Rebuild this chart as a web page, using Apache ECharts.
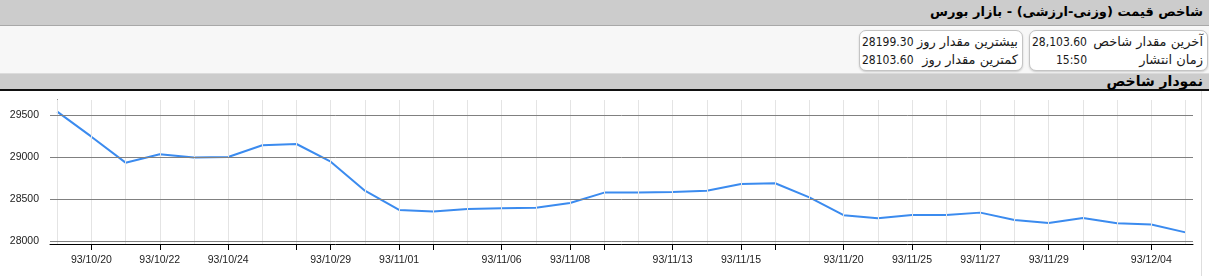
<!DOCTYPE html>
<html>
<head>
<meta charset="utf-8">
<script src="https://cdn.jsdelivr.net/npm/echarts@6/dist/echarts.min.js"></script>
<style>
  html, body { margin: 0; padding: 0; width: 1209px; height: 276px; overflow: hidden; background: #ffffff; font-family: "DejaVu Sans", sans-serif; }
  .bar1 { position: absolute; left: 0; top: 0; width: 1209px; height: 25px; background: #cccccc; border-bottom: 1px solid #a8a8a8; }
  .info { position: absolute; left: 0; top: 26px; width: 1209px; height: 47px; background: #f7f7f7; border-bottom: 1px solid #dcdcdc; }
  .bar2 { position: absolute; left: 0; top: 74px; width: 1209px; height: 15px; background: #cccccc; border-bottom: 2px solid #111111; }
  .title { position: absolute; right: 6px; font-weight: bold; color: #000; white-space: nowrap; direction: rtl; }
  .box { position: absolute; top: 30px; height: 39px; background: #ffffff; border: 1px solid #c4c4c4; border-radius: 7px; box-shadow: 0 1px 2px rgba(0,0,0,0.18); }
  .t { position: absolute; font-size: 13px; color: #1a1a1a; white-space: nowrap; }
  .n { position: absolute; font-size: 12px; color: #1a1a1a; white-space: nowrap; font-family: "DejaVu Sans Condensed", "DejaVu Sans", sans-serif; }
  .rtl { direction: rtl; }
  .vline { position: absolute; left: 1201px; top: 91px; width: 1px; height: 185px; background: #dedede; }
  #chart { position: absolute; left: 0; top: 91px; width: 1209px; height: 185px; }
</style>
</head>
<body>
<div class="bar1"><div class="title" style="top:4px;font-size:13px;">شاخص قیمت (وزنی-ارزشی) - بازار بورس</div></div>
<div class="info"></div>
<div class="box" style="left:1029px;width:177px;"></div>
<div class="box" style="left:859px;width:162px;"></div>
<div class="t rtl" style="right:6px;top:34px;">آخرین مقدار شاخص</div>
<div class="n" style="left:1032px;top:35px;">28,103.60</div>
<div class="t rtl" style="right:6px;top:52px;">زمان انتشار</div>
<div class="n" style="left:1056px;top:53px;">15:50</div>
<div class="t rtl" style="right:191px;top:34px;">بیشترین مقدار روز</div>
<div class="n" style="left:862px;top:35px;">28199.30</div>
<div class="t rtl" style="right:191px;top:52px;">کمترین مقدار روز</div>
<div class="n" style="left:862px;top:53px;">28103.60</div>
<div class="bar2"><div class="title" style="top:-1px;font-size:14px;">نمودار شاخص</div></div>
<div class="vline"></div>
<div id="chart"></div>
<script>
// ---- data ----
var categories = [
  '93/10/17','93/10/20','93/10/21','93/10/22','93/10/23','93/10/24','93/10/27','93/10/28',
  '93/10/29','93/10/30','93/11/01','93/11/04','93/11/05','93/11/06','93/11/07','93/11/08',
  '93/11/11','93/11/12','93/11/13','93/11/14','93/11/15','93/11/18','93/11/19','93/11/20',
  '93/11/21','93/11/25','93/11/26','93/11/27','93/11/28','93/11/29','93/12/02','93/12/03',
  '93/12/04','93/12/05'
];
var indexValues = [
  29540, 29242, 28933, 29033, 28993, 29000, 29140, 29155,
  28945, 28600, 28371, 28351, 28383, 28391, 28398, 28454,
  28577, 28578, 28585, 28600, 28680, 28688, 28520, 28308,
  28272, 28312, 28312, 28339, 28252, 28216, 28276, 28212,
  28199, 28104
];
var labeledDates = ['93/10/20','93/10/22','93/10/24','93/10/29','93/11/01','93/11/06','93/11/08',
  '93/11/13','93/11/15','93/11/20','93/11/25','93/11/27','93/11/29','93/12/04'];
var tickedDates = ['93/10/20','93/10/22','93/10/24','93/10/28','93/10/29','93/11/01','93/11/04',
  '93/11/06','93/11/08','93/11/11','93/11/13','93/11/15','93/11/18','93/11/20','93/11/25',
  '93/11/27','93/11/29','93/12/02','93/12/04'];
var yTicks = [28000, 28500, 29000, 29500];

// ---- build ----
var seriesData = indexValues.map(function (v, i) { return [i, v]; });
var labelPos = labeledDates.map(function (d) { return categories.indexOf(d); });
var tickPos = tickedDates.map(function (d) { return categories.indexOf(d); });
var vGrid = categories.map(function (d, i) { return { xAxis: i }; });
var hGrid = yTicks.map(function (v) { return { yAxis: v }; });

var chart = echarts.init(document.getElementById('chart'), null, { renderer: 'canvas' });
var labelFont = { fontFamily: 'Liberation Sans, Arial, sans-serif', fontSize: 10.5, color: '#222222' };
chart.setOption({
  animation: false,
  grid: { left: 50, right: 16, top: 9, bottom: 32 },
  xAxis: {
    type: 'value',
    min: -0.21, max: 33.22,
    axisLine: { show: true, onZero: false, lineStyle: { color: '#000000', width: 1 } },
    axisTick: { show: true, customValues: tickPos, length: 6, lineStyle: { color: '#000000' } },
    axisLabel: Object.assign({ customValues: labelPos, margin: 11,
      formatter: function (v) { return categories[Math.round(v)]; } }, labelFont),
    splitLine: { show: false }
  },
  yAxis: {
    type: 'value',
    min: 27966, max: 29678,
    axisLine: { show: true, lineStyle: { color: '#000000', width: 1 } },
    axisTick: { show: true, customValues: yTicks, length: 6, lineStyle: { color: '#000000' } },
    axisLabel: Object.assign({ customValues: yTicks, margin: 11,
      formatter: function (v) { return String(v); } }, labelFont),
    splitLine: { show: false }
  },
  series: [
    { type: 'line', data: [], z: 1, silent: true,
      markLine: { silent: true, symbol: 'none', animation: false, label: { show: false },
        lineStyle: { color: '#e4e4e4', width: 1, type: 'solid' }, data: vGrid } },
    { type: 'line', data: [], z: 1.5, silent: true,
      markLine: { silent: true, symbol: 'none', animation: false, label: { show: false },
        lineStyle: { color: '#808080', width: 1, type: 'solid' }, data: hGrid } },
    { type: 'line', data: seriesData, z: 3, showSymbol: false, symbol: 'none',
      lineStyle: { color: '#3b8bef', width: 2 } }
  ]
});
</script>
</body>
</html>
